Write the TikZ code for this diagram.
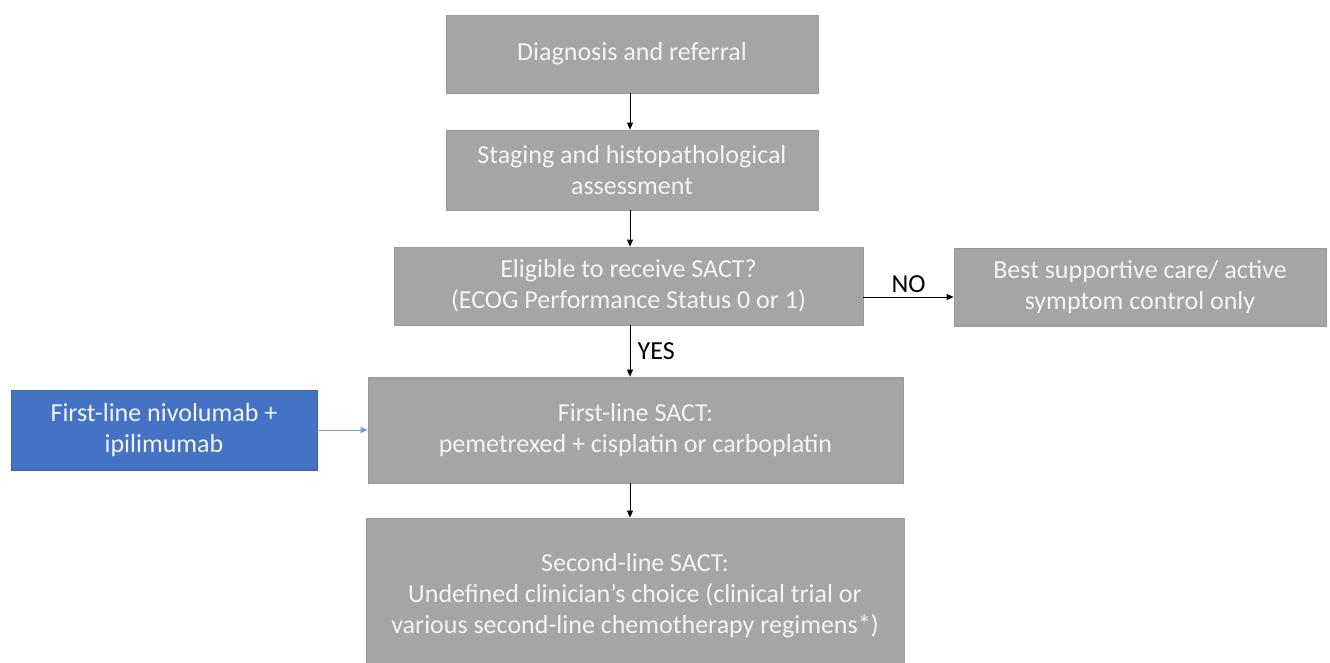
\documentclass[tikz,border=0pt]{standalone}
\usepackage{fontspec}
\setmainfont{Carlito}
\usetikzlibrary{arrows.meta}
\definecolor{boxgray}{HTML}{A5A5A5}
\definecolor{boxedge}{HTML}{9A9A9A}
\definecolor{blueA}{HTML}{4472C4}
\definecolor{txt}{HTML}{F4F4F4}
\begin{document}
\begin{tikzpicture}[x=1pt,y=-1pt,
  gbox/.style={draw=boxedge,fill=boxgray,line width=0.8pt,text=txt,align=center,
    font=\fontsize{26}{31}\selectfont,inner sep=0pt},
  bbox/.style={draw=blueA!85!black,fill=blueA,line width=0.8pt,text=txt,align=center,
    font=\fontsize{26}{31}\selectfont,inner sep=0pt},
  arr/.style={-{Triangle[length=7pt,width=6pt]},line width=0.8pt,black},
  lbl/.style={font=\fontsize{26}{31}\selectfont,text=black}]
\useasboundingbox (0,0) rectangle (1330,662);
\clip (0,0) rectangle (1330,662);
\node[gbox,minimum width=372,minimum height=78] (diag) at (632,54) {Diagnosis and referral};
\node[gbox,minimum width=372,minimum height=80] (stag) at (632,170) {Staging and histopathological\\assessment};
\node[gbox,minimum width=469,minimum height=78] (elig) at (628.5,286) {Eligible to receive SACT?\\(ECOG Performance Status 0 or 1)};
\node[gbox,minimum width=372,minimum height=78] (bsc) at (1140,287) {Best supportive care/ active\\symptom control only};
\node[gbox,minimum width=535,minimum height=106] (first) at (635.5,430) {First-line SACT:\\pemetrexed + cisplatin or carboplatin};
\node[bbox,minimum width=306,minimum height=80] (nivo) at (164,430) {First-line nivolumab +\\ipilimumab};
\node[gbox,minimum width=538,minimum height=156] (second) at (635,596) {Second-line SACT:\\Undefined clinician’s choice (clinical trial or\\various second-line chemotherapy regimens*)};
\draw[arr] (diag.south -| 630,0) -- (stag.north -| 630,0);
\draw[arr] (stag.south -| 630,0) -- (elig.north -| 630,0);
\draw[arr] (elig.south -| 630,0) -- node[lbl,right,xshift=4pt]{YES} (first.north -| 630,0);
\draw[arr] (first.south -| 630,0) -- (second.north -| 630,0);
\draw[arr] (elig.east |- 0,297) -- node[lbl,above,yshift=1pt]{NO} (bsc.west |- 0,297);
\draw[arr,draw=blueA!70!white,line width=0.7pt,-{Triangle[length=7pt,width=6pt]}] (nivo.east) -- (first.west |- nivo.east);
\end{tikzpicture}
\end{document}
